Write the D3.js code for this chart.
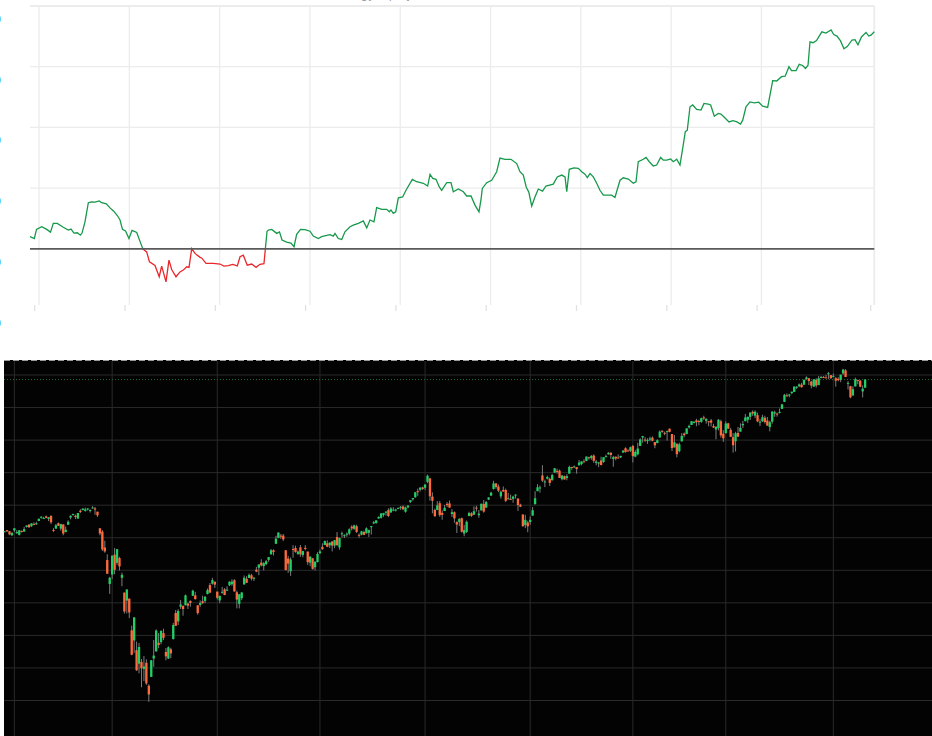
<!DOCTYPE html>
<html>
<head>
<meta charset="utf-8">
<script src="https://cdn.jsdelivr.net/npm/d3@7/dist/d3.min.js"></script>
<style>
  html, body { margin: 0; padding: 0; background: #fff; }
  svg { display: block; font-family: "DejaVu Sans", sans-serif; }
</style>
</head>
<body>
<svg id="chart" width="932" height="736"></svg>
<script>
// ---- top panel: cumulative p&l line (x in grid units, y in %)
var pnlT = [0,0.48,0.72,1.30,1.85,2.27,2.58,3.02,3.69,4.24,
  4.54,4.87,5.24,5.57,5.76,6.09,6.46,6.81,7.20,7.67,
  7.94,8.45,8.86,9.27,9.69,9.97,10.24,10.58,10.96,11.30,
  11.82,12.15,12.51,12.92,13.23,13.84,14.31,14.58,14.76,15.06,
  15.39,15.69,16.17,16.61,16.98,17.35,17.61,17.91,18.27,18.83,
  19.01,19.49,20.30,21.04,21.48,21.96,22.45,22.96,23.26,23.62,
  24.06,24.55,25.03,25.47,25.91,26.25,26.41,26.77,27.32,27.63,
  27.91,28.43,28.90,29.24,29.53,29.96,30.45,31.01,31.37,31.93,
  32.30,32.86,33.22,33.59,33.78,34.14,34.52,34.88,35.44,35.80,
  36.36,36.91,37.29,37.65,38.09,38.39,38.95,39.50,39.79,39.98,
  40.23,40.50,40.79,41.27,41.64,42.34,42.82,43.56,44.04,44.30,
  44.60,44.96,45.33,45.59,46.15,46.62,46.88,47.43,47.99,48.36,
  48.84,49.28,49.72,49.94,50.09,50.58,51.13,51.68,52.05,52.60,
  53.27,53.90,54.26,54.63,54.96,55.24,55.56,55.92,56.29,56.76,
  57.14,57.95,58.39,58.88,59.25,59.44,59.72,60.24,60.72,61.10,
  61.46,61.72,62.02,62.38,62.76,63.12,63.49,63.86,64.42,64.78,
  65.34,65.70,66.26,66.81,67.11,67.36,67.92,68.22,68.58,69.02,
  69.40,69.84,70.13,70.51,70.95,71.24,71.62,71.98,72.28,72.57,
  72.79,73.09,73.39,73.83,74.31,74.64,75.12,75.38,75.78,76.22,
  76.52,76.97,77.41,77.85,78.29,78.68,78.93,79.29,79.73,80.21,
  80.70,81.14,81.69,82.25,82.69,83.22,83.63,84.05,84.33,84.83,
  85.19,85.57,85.88,86.16,86.38,86.71,87.10,87.69,88.15,88.71,
  89.01,89.37,89.76,90.14,90.53,91.03,91.36,91.69,92.08,92.58,92.89,93.13,93.50];
var pnlV = [4.0,3.4,6.4,7.3,6.4,5.5,8.4,8.4,7.1,6.2,
  6.5,5.2,5.3,4.5,5.2,8.9,15.2,15.5,15.4,15.8,
  15.2,14.8,13.5,12.4,10.9,9.5,6.4,5.9,3.4,6.1,
  5.4,2.7,-0.1,-1.0,-4.3,-5.5,-9.2,-5.7,-7.6,-10.9,
  -3.7,-6.8,-9.2,-7.6,-7.0,-5.9,-6.1,0.1,-1.5,-2.8,
  -3.0,-4.8,-4.8,-5.0,-5.7,-5.5,-5.1,-5.6,-2.6,-2.1,
  -5.4,-5.0,-6.1,-5.1,-4.9,5.8,6.2,6.4,5.1,5.6,
  2.9,2.2,1.9,0.7,4.8,6.4,6.3,5.8,4.2,3.4,
  4.0,4.4,4.7,4.2,5.1,3.4,3.1,5.6,7.3,7.8,
  8.4,9.2,6.9,9.5,8.9,13.6,13.0,13.0,12.2,12.8,
  11.7,12.2,16.8,17.1,19.3,22.9,22.1,21.6,20.7,24.5,
  23.2,22.9,20.4,19.3,21.8,21.8,18.8,19.7,18.8,17.4,
  17.4,14.4,12.2,16.1,19.9,21.8,22.6,25.4,29.9,29.5,
  29.5,28.1,25.4,24.3,20.3,18.7,14.1,17.1,19.7,19.0,
  20.7,21.3,23.7,24.3,23.7,18.8,26.2,26.7,26.5,25.4,
  24.6,23.5,24.8,23.7,21.6,19.3,17.7,17.7,17.7,16.9,
  22.6,23.4,23.0,21.6,22.1,28.7,29.5,30.1,28.7,27.3,
  27.6,30.1,29.2,29.2,29.6,28.7,29.5,27.6,33.1,38.6,
  39.1,46.8,47.4,45.9,45.7,47.9,47.7,47.4,43.7,44.6,
  44.4,43.1,41.8,42.2,41.8,41.1,42.4,46.8,48.4,48.1,
  48.3,47.0,46.6,55.4,55.3,56.7,56.9,60.0,58.7,58.7,
  60.8,60.4,59.4,60.5,68.2,67.9,68.6,71.5,71.1,72.1,
  70.6,70.1,68.5,65.9,66.7,68.8,68.9,67.2,69.8,71.3,70.1,70.4,71.5];
var pnlGridT = [1, 11, 21, 31, 41, 51, 61, 71, 81];
var pnlTickT = [0.52, 10.52, 20.52, 30.52, 40.52, 50.52, 60.52, 70.52, 80.52, 93.1];
var pnlGridV = [20, 40, 60, 80];
var pnlLabels = [80, 60, 40, 20, 0, -20];

// ---- bottom panel: daily candles (index 0 = first session shown)
var candleOpen = [3235,3247,3240,3215,3245,3227,3218,3242,3238,3266,
3281,3271,3285,3282,3303,3323,3321,3331,3316,3334,
3248,3256,3289,3256,3282,3235,3280,3324,3345,3335,
3318,3366,3370,3365,3378,3370,3380,3380,3360,3258,
3238,3140,3063,2916,2974,3096,3046,3075,2954,2863,
2814,2826,2631,2569,2509,2426,2437,2394,2432,2291,
2345,2458,2502,2555,2559,2614,2498,2458,2515,2578,
2738,2686,2776,2782,2785,2796,2812,2843,2846,2785,
2787,2810,2812,2854,2909,2918,2930,2869,2815,2868,
2883,2878,2908,2915,2939,2865,2794,2829,2913,2948,
2953,2969,2948,3004,3016,3047,3026,3038,3064,3098,
3123,3163,3199,3213,3213,3123,3072,2994,3131,3137,
3101,3141,3094,3138,3115,3047,3074,3019,3051,3105,
3144,3155,3166,3154,3176,3152,3205,3141,3226,3209,
3224,3225,3268,3255,3271,3218,3219,3235,3227,3231,
3270,3288,3290,3318,3323,3340,3356,3370,3355,3373,
3368,3381,3388,3392,3360,3387,3419,3436,3449,3486,
3495,3509,3507,3543,3565,3453,3371,3370,3412,3353,
3364,3408,3411,3346,3357,3296,3296,3320,3226,3236,
3333,3350,3342,3385,3339,3368,3408,3385,3435,3459,
3500,3534,3515,3454,3494,3493,3439,3439,3439,3464,
3441,3403,3343,3278,3294,3296,3336,3406,3486,3508,
3583,3544,3563,3562,3553,3600,3611,3612,3560,3579,
3567,3594,3635,3638,3634,3645,3653,3669,3671,3694,
3690,3705,3660,3656,3675,3666,3696,3713,3722,3684,
3698,3693,3694,3723,3750,3736,3734,3764,3699,3713,
3764,3816,3803,3801,3803,3815,3788,3782,3816,3857,
3845,3851,3870,3837,3755,3778,3732,3792,3840,3837,
3878,3893,3910,3921,3917,3912,3939,3918,3916,3921,
3886,3865,3874,3916,3839,3842,3903,3863,3818,3793,
3844,3852,3891,3916,3925,3943,3974,3950,3953,3913,
3916,3937,3920,3880,3913,3963,3963,3968,3992,4035,
4075,4074,4089,4096,4124,4131,4141,4140,4175,4180,
4160,4129,4171,4138,4185,4188,4185,4206,4199,4192,
4180,4177,4170,4210,4228,4150,4131,4074,4130,4169,
4165,4099,4122];
var candleHigh = [3241,3247,3241,3232,3258,3247,3247,3245,3267,3276,
3282,3289,3295,3298,3317,3330,3329,3337,3326,3338,
3259,3285,3294,3286,3282,3269,3307,3338,3348,3342,
3352,3375,3381,3385,3381,3375,3394,3389,3360,3260,
3247,3182,3098,2960,3090,3137,3130,3083,2985,2863,
2883,2826,2660,2711,2562,2553,2454,2473,2453,2300,
2449,2572,2637,2615,2632,2641,2523,2533,2524,2677,
2756,2761,2818,2782,2851,2801,2815,2880,2868,2785,
2815,2844,2842,2888,2922,2954,2930,2869,2844,2898,
2891,2902,2932,2945,2945,2875,2853,2865,2968,2964,
2980,2978,2957,3021,3036,3068,3050,3063,3082,3131,
3129,3212,3233,3223,3223,3123,3089,3079,3154,3151,
3121,3156,3120,3155,3115,3086,3074,3054,3111,3128,
3166,3183,3184,3172,3180,3187,3235,3201,3238,3221,
3233,3258,3277,3280,3280,3227,3242,3243,3264,3250,
3272,3303,3307,3331,3352,3353,3364,3381,3388,3388,
3379,3387,3395,3399,3391,3400,3432,3444,3482,3502,
3510,3514,3528,3588,3565,3479,3379,3425,3425,3368,
3402,3419,3429,3376,3362,3301,3320,3324,3279,3306,
3360,3357,3393,3397,3370,3409,3432,3426,3450,3482,
3550,3534,3528,3490,3515,3502,3476,3465,3458,3466,
3441,3409,3343,3341,3304,3331,3389,3486,3529,3521,
3646,3557,3582,3569,3593,3628,3624,3619,3586,3582,
3590,3643,3636,3644,3635,3678,3670,3683,3699,3698,
3709,3712,3678,3665,3698,3695,3711,3726,3726,3703,
3699,3712,3704,3740,3756,3744,3760,3770,3738,3784,
3811,3826,3818,3811,3821,3823,3788,3805,3860,3861,
3852,3859,3871,3837,3831,3778,3784,3843,3847,3872,
3895,3916,3918,3931,3925,3938,3950,3933,3916,3930,
3900,3886,3929,3925,3861,3915,3906,3875,3843,3851,
3881,3903,3918,3961,3944,3970,3982,3983,3969,3929,
3956,3950,3942,3919,3978,3981,3969,3994,4020,4084,
4087,4084,4098,4129,4131,4148,4152,4173,4192,4181,
4164,4175,4180,4194,4194,4193,4201,4219,4199,4209,
4187,4187,4202,4238,4236,4162,4134,4131,4184,4171,
4170,4136,4173];
var candleLow = [3234,3235,3216,3212,3235,3226,3214,3232,3236,3263,
3260,3267,3278,3280,3302,3317,3316,3320,3302,3284,
3236,3255,3272,3243,3215,3234,3280,3313,3336,3315,
3317,3352,3369,3360,3367,3355,3379,3341,3328,3215,
3119,3108,2977,2855,2946,2976,3034,2999,2902,2734,
2735,2706,2478,2493,2381,2367,2281,2319,2296,2192,
2345,2407,2500,2521,2545,2571,2447,2455,2459,2574,
2657,2664,2762,2721,2785,2762,2776,2843,2820,2727,
2775,2794,2798,2852,2860,2912,2892,2821,2798,2856,
2847,2873,2903,2905,2869,2766,2766,2817,2913,2922,
2953,2938,2934,2988,2970,3024,2999,3032,3052,3098,
3091,3163,3197,3193,3181,2999,2984,2966,3077,3108,
3094,3083,3080,3123,3033,3025,3004,2999,3048,3101,
3125,3155,3142,3137,3116,3136,3150,3127,3200,3198,
3206,3215,3245,3249,3229,3200,3215,3216,3227,3205,
3220,3284,3287,3318,3318,3329,3336,3327,3355,3363,
3361,3379,3371,3369,3354,3380,3414,3428,3445,3457,
3484,3494,3494,3535,3428,3350,3330,3370,3329,3311,
3364,3389,3385,3328,3293,3229,3271,3232,3209,3229,
3333,3328,3340,3361,3323,3368,3354,3385,3431,3458,
3496,3501,3480,3440,3483,3419,3435,3433,3415,3441,
3365,3388,3268,3259,3234,3280,3336,3405,3486,3477,
3543,3511,3558,3518,3552,3600,3594,3567,3553,3557,
3553,3594,3617,3630,3594,3645,3645,3664,3671,3680,
3679,3660,3645,3634,3645,3660,3695,3710,3685,3636,
3676,3689,3690,3723,3723,3731,3727,3663,3695,3706,
3764,3784,3789,3777,3792,3792,3750,3780,3816,3845,
3830,3797,3848,3733,3755,3694,3725,3792,3817,3837,
3871,3893,3903,3885,3891,3906,3924,3901,3885,3884,
3874,3805,3860,3815,3789,3842,3868,3819,3723,3730,
3819,3852,3874,3916,3906,3924,3949,3935,3910,3886,
3911,3902,3889,3854,3901,3943,3944,3964,3992,4034,
4068,4063,4082,4096,4114,4125,4122,4140,4171,4138,
4118,4126,4123,4138,4180,4182,4182,4174,4175,4188,
4128,4161,4156,4201,4188,4111,4057,4074,4130,4143,
4125,4062,4122];
var candleClose = [3240,3240,3221,3231,3258,3235,3246,3237,3253,3275,
3265,3288,3283,3289,3317,3330,3321,3322,3326,3295,
3244,3276,3273,3284,3226,3249,3298,3335,3346,3328,
3352,3358,3379,3374,3380,3370,3386,3373,3338,3226,
3128,3116,2979,2954,3090,3003,3130,3024,2972,2747,
2882,2741,2481,2711,2386,2529,2398,2409,2305,2237,
2447,2476,2630,2541,2627,2585,2471,2527,2489,2664,
2659,2750,2790,2762,2846,2783,2800,2875,2823,2737,
2799,2798,2837,2878,2863,2940,2912,2831,2843,2868,
2848,2881,2930,2930,2870,2820,2853,2864,2954,2923,
2972,2949,2955,2992,3036,3030,3044,3056,3081,3123,
3112,3194,3232,3207,3190,3002,3041,3067,3125,3113,
3115,3098,3118,3131,3050,3084,3009,3053,3100,3116,
3130,3180,3145,3170,3152,3185,3155,3198,3227,3216,
3225,3252,3257,3276,3236,3216,3239,3218,3258,3246,
3271,3295,3307,3328,3349,3351,3360,3334,3380,3373,
3373,3382,3390,3375,3386,3397,3431,3444,3479,3485,
3508,3500,3527,3581,3455,3427,3332,3399,3339,3341,
3384,3401,3385,3357,3319,3281,3316,3237,3247,3298,
3352,3335,3363,3381,3348,3409,3361,3419,3447,3477,
3534,3512,3489,3483,3484,3427,3443,3436,3453,3465,
3401,3391,3271,3310,3270,3310,3369,3443,3510,3509,
3551,3546,3573,3537,3585,3627,3610,3568,3582,3558,
3578,3635,3630,3638,3622,3662,3669,3667,3699,3692,
3702,3673,3668,3663,3647,3695,3701,3722,3709,3695,
3687,3690,3703,3735,3727,3732,3756,3701,3727,3748,
3804,3825,3800,3801,3810,3796,3768,3799,3852,3853,
3841,3855,3850,3751,3787,3714,3774,3826,3830,3872,
3887,3916,3911,3910,3916,3935,3933,3931,3914,3907,
3877,3881,3925,3829,3811,3902,3870,3820,3768,3842,
3821,3875,3899,3939,3943,3969,3963,3974,3915,3913,
3941,3911,3889,3910,3975,3971,3959,3973,4020,4078,
4074,4080,4097,4129,4128,4142,4125,4170,4185,4163,
4135,4173,4135,4180,4188,4187,4183,4211,4181,4193,
4165,4168,4202,4233,4188,4152,4063,4113,4174,4163,
4128,4116,4172];
// first session of every second month
var monthStarts = [4, 44, 87, 129, 172, 215, 257, 295, 339];
var priceTicks = [2200, 2400, 2600, 2800, 3000, 3200, 3400, 3600, 3800, 4000, 4200];

var svg = d3.select("#chart");

// ================= top panel =================
var xTop = d3.scaleLinear().domain([0, 93.5]).range([30, 874.3]);
var yTop = d3.scaleLinear().domain([-18.5, 80]).range([305, 6]);

var topG = svg.append("g");

// title and axis labels sit mostly outside the page edge
topG.append("text")
    .attr("x", 370).attr("y", -1)
    .attr("text-anchor", "middle")
    .attr("font-size", 11).attr("fill", "#999")
    .text("Strategy equity");

topG.selectAll(".ylab")
    .data(pnlLabels)
    .enter().append("text")
    .attr("class", "ylab")
    .attr("x", 1)
    .attr("y", function (d) { return yTop(d) + 17; })
    .attr("text-anchor", "end")
    .attr("font-size", 10)
    .attr("fill", "#2b9ae0")
    .text(function (d) { return d; });

topG.selectAll(".vgrid")
    .data(pnlGridT)
    .enter().append("line")
    .attr("x1", function (d) { return xTop(d); })
    .attr("x2", function (d) { return xTop(d); })
    .attr("y1", yTop(80)).attr("y2", 305)
    .attr("stroke", "#ececec").attr("stroke-width", 1.3);

topG.selectAll(".hgrid")
    .data(pnlGridV)
    .enter().append("line")
    .attr("x1", xTop(0)).attr("x2", xTop(93.5))
    .attr("y1", function (d) { return yTop(d); })
    .attr("y2", function (d) { return yTop(d); })
    .attr("stroke", "#ececec")
    .attr("stroke-width", function (d) { return d === 80 ? 1.8 : 1.3; });

// right border
topG.append("line")
    .attr("x1", xTop(93.5)).attr("x2", xTop(93.5))
    .attr("y1", yTop(80)).attr("y2", 305)
    .attr("stroke", "#ececec").attr("stroke-width", 1.8);

// small tick stubs under the plot
topG.selectAll(".tick")
    .data(pnlTickT)
    .enter().append("line")
    .attr("x1", function (d) { return xTop(d); })
    .attr("x2", function (d) { return xTop(d); })
    .attr("y1", 305).attr("y2", 311)
    .attr("stroke", "#e2e2e2").attr("stroke-width", 1.3);

// clip regions above / below zero
var defs = svg.append("defs");
defs.append("clipPath").attr("id", "clipPos")
    .append("rect").attr("x", 0).attr("y", 0)
    .attr("width", 932).attr("height", yTop(0));
defs.append("clipPath").attr("id", "clipNeg")
    .append("rect").attr("x", 0).attr("y", yTop(0))
    .attr("width", 932).attr("height", 320 - yTop(0));

var pnlData = pnlT.map(function (t, i) { return { t: t, v: pnlV[i] }; });
var pnlLine = d3.line()
    .x(function (d) { return xTop(d.t); })
    .y(function (d) { return yTop(d.v); });

topG.append("path")
    .datum(pnlData)
    .attr("d", pnlLine)
    .attr("fill", "none")
    .attr("stroke", "#16994b")
    .attr("stroke-width", 1.3)
    .attr("clip-path", "url(#clipPos)");

topG.append("path")
    .datum(pnlData)
    .attr("d", pnlLine)
    .attr("fill", "none")
    .attr("stroke", "#e8262b")
    .attr("stroke-width", 1.3)
    .attr("clip-path", "url(#clipNeg)");

// zero line
topG.append("line")
    .attr("x1", xTop(0)).attr("x2", xTop(93.5))
    .attr("y1", yTop(0)).attr("y2", yTop(0))
    .attr("stroke", "#5a5a5a").attr("stroke-width", 1.6);

// ================= bottom panel =================
var xC = d3.scaleBand()
    .domain(d3.range(candleClose.length))
    .range([3.3, 866.4])
    .padding(0.05);
var yC = d3.scaleLinear().domain([2200, 4200]).range([700.5, 375]);
var half = xC.bandwidth() / 2;

var botG = svg.append("g");

botG.append("rect")
    .attr("x", 4).attr("y", 360)
    .attr("width", 928).attr("height", 376)
    .attr("fill", "#030303");

botG.selectAll(".pgrid")
    .data(priceTicks)
    .enter().append("line")
    .attr("x1", 4).attr("x2", 932)
    .attr("y1", function (d) { return yC(d); })
    .attr("y2", function (d) { return yC(d); })
    .attr("stroke", "#2a2a2a").attr("stroke-width", 1);

botG.selectAll(".tgrid")
    .data(monthStarts)
    .enter().append("line")
    .attr("x1", function (d) { return xC(d) + half; })
    .attr("x2", function (d) { return xC(d) + half; })
    .attr("y1", 361).attr("y2", 736)
    .attr("stroke", "#2a2a2a").attr("stroke-width", 1);

// dashed top edge
botG.append("line")
    .attr("x1", 4).attr("x2", 932)
    .attr("y1", 360.5).attr("y2", 360.5)
    .attr("stroke", "#9a9a9a").attr("stroke-width", 1)
    .attr("stroke-dasharray", "6,3");

// last price line
var lastClose = candleClose[candleClose.length - 1];
botG.append("line")
    .attr("x1", 4).attr("x2", 932)
    .attr("y1", yC(lastClose)).attr("y2", yC(lastClose))
    .attr("stroke", "#1f6b3c").attr("stroke-width", 1)
    .attr("stroke-dasharray", "1,2");

var candles = candleClose.map(function (c, i) {
    return { i: i, o: candleOpen[i], h: candleHigh[i], l: candleLow[i], c: c };
});

botG.selectAll(".wick")
    .data(candles)
    .enter().append("line")
    .attr("class", "wick")
    .attr("x1", function (d) { return xC(d.i) + half; })
    .attr("x2", function (d) { return xC(d.i) + half; })
    .attr("y1", function (d) { return yC(d.h); })
    .attr("y2", function (d) { return yC(d.l); })
    .attr("stroke", "#7d7d7d").attr("stroke-width", 1);

botG.selectAll(".body")
    .data(candles)
    .enter().append("rect")
    .attr("class", "body")
    .attr("x", function (d) { return xC(d.i); })
    .attr("width", xC.bandwidth())
    .attr("y", function (d) { return yC(Math.max(d.o, d.c)); })
    .attr("height", function (d) { return Math.max(1, Math.abs(yC(d.o) - yC(d.c))); })
    .attr("fill", function (d) { return d.c >= d.o ? "#22cf66" : "#ff6a3c"; });
</script>
</body>
</html>
